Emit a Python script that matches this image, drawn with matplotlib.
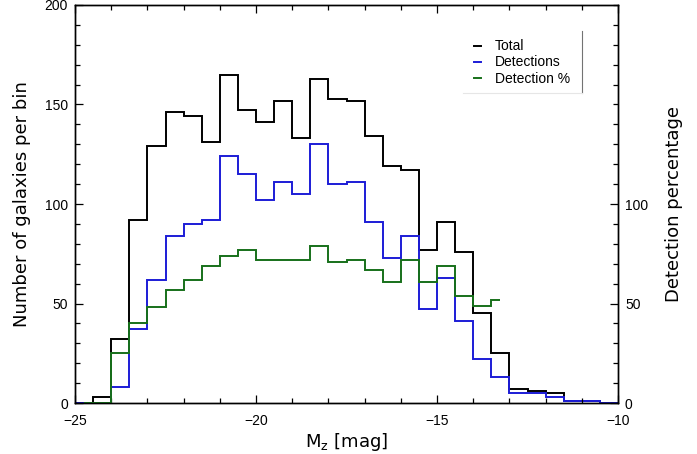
import numpy as np
import matplotlib
matplotlib.use("Agg")
import matplotlib.pyplot as plt
from matplotlib.ticker import MultipleLocator, FixedLocator

# bin edges in M_z (0.5 mag bins from -25 to -10)
edges = np.arange(-25.0, -9.99, 0.5)

total = [0, 3, 32, 92, 129, 146, 144, 131, 165, 147, 141, 152, 133, 163, 153, 152,
         134, 119, 117, 77, 91, 76, 45, 25, 7, 6, 5, 1, 1, 0]
detections = [0, 0, 8, 37, 62, 84, 90, 92, 124, 115, 102, 111, 105, 130, 110, 111,
              91, 73, 84, 47, 63, 41, 22, 13, 5, 5, 3, 1, 1, 0]
# detection percentage, only for bins up to M_z = -13
det_pct = [0, 0, 25, 40, 48, 57, 62, 69, 74, 77, 72, 72, 72, 79, 71, 72,
           67, 61, 72, 61, 69, 54, 49, 52]

label_font = "DejaVu Sans"
tick_font = "Liberation Sans"

fig = plt.figure(figsize=(6.97, 4.54), dpi=100)
ax = fig.add_axes([0.1076, 0.1123, 0.7791, 0.8767])

ax.stairs(total, edges, color="black", lw=1.4, baseline=None, label="Total")
ax.stairs(detections, edges, color="#1c1cd6", lw=1.4, baseline=None, label="Detections")

# green curve drawn psym=10 style: starts/ends at first/last bin centres
n = len(det_pct)
g_edges = edges[:n + 1].copy()
g_edges[0] += 0.25
g_edges[-1] -= 0.25

ax2 = ax.twinx()
ax2.stairs(det_pct, g_edges, color="#17701a", lw=1.4, baseline=None)
ax.plot([], [], color="#17701a", lw=1.4, label="Detection %")

ax.set_xlim(-25, -10)
ax.set_ylim(0, 200)
ax2.set_ylim(0, 200)

ax.xaxis.set_major_locator(MultipleLocator(5))
ax.xaxis.set_minor_locator(MultipleLocator(1))
ax.yaxis.set_major_locator(MultipleLocator(50))
ax.yaxis.set_minor_locator(MultipleLocator(10))
ax2.yaxis.set_major_locator(FixedLocator([0, 50, 100]))
ax2.yaxis.set_minor_locator(FixedLocator(np.arange(0, 201, 10)))

ax.tick_params(axis="both", which="both", direction="in", top=True, right=False,
               labelsize=10)
ax.tick_params(axis="x", pad=8)
ax.tick_params(axis="y", pad=5)
ax.tick_params(which="major", length=6, width=0.9)
ax.tick_params(which="minor", length=3.5, width=0.9)
ax2.tick_params(axis="y", which="both", direction="in", labelsize=10, pad=5)
ax2.tick_params(which="major", length=6, width=0.9)
ax2.tick_params(which="minor", length=3.5, width=0.9)

for lab in ax.get_xticklabels() + ax.get_yticklabels() + ax2.get_yticklabels():
    lab.set_fontfamily(tick_font)

for a in (ax, ax2):
    for s in a.spines.values():
        s.set_linewidth(1.0)

ax.set_xlabel(r"M$_\mathregular{z}$ [mag]", fontsize=13, family=label_font, labelpad=2)
ax.set_ylabel("Number of galaxies per bin", fontsize=13, family=label_font, labelpad=10)
ax2.set_ylabel("Detection percentage", fontsize=13, family=label_font, labelpad=12)

leg = ax.legend(loc="upper right", bbox_to_anchor=(0.935, 0.945), frameon=False,
                handlelength=0.5, handletextpad=1.0, labelspacing=0.15,
                prop={"family": tick_font, "size": 10})

# partial legend box (right and bottom edges)
ax.plot([0.933, 0.933], [0.78, 0.935], transform=ax.transAxes, color="0.45", lw=0.8)
ax.plot([0.715, 0.933], [0.78, 0.78], transform=ax.transAxes, color="0.9", lw=0.8)

fig.savefig("out.png", dpi=100)
